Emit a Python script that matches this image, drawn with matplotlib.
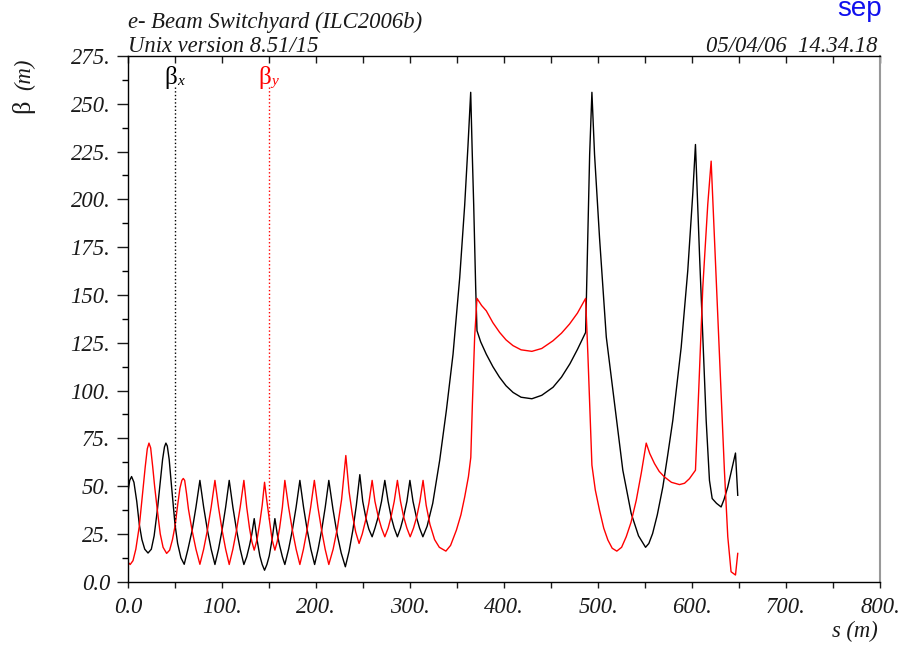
import numpy as np
import matplotlib
matplotlib.use('Agg')
import matplotlib.pyplot as plt
from matplotlib.ticker import MultipleLocator, FixedLocator, FixedFormatter

# beta_x (black): s [m], beta [m]
s_x = [0, 1.5, 3.5, 6, 9, 11.7, 14.5, 17.5, 21, 24.5, 27.5, 30.9, 34, 36.5, 38.5, 40, 41.5, 43.5, 46, 49.7, 52.5, 56, 59.5,
       63.5, 68, 72, 76.2, 80.2, 84.2, 88.2, 92.2, 96, 99.8, 103.6, 107.4, 111.3, 115.2, 119.1, 123,
       126, 129, 131.5, 134, 137, 140, 142.5, 145, 147.5, 150, 153, 156, 158.5, 161, 164, 166.6,
       170.6, 174.6, 178.6, 182.6, 186.5, 190.4, 194.3, 198.3, 202, 205.8, 209.6, 213.4,
       217.8, 222.2, 226.6, 231, 235, 239, 242.7, 246.4, 249.5, 253, 256, 259.5,
       262.5, 266, 269.5, 273, 276.5, 279.7, 283, 286.4, 289.7, 293, 296.5, 299.7,
       303, 306.5, 310, 313.5, 318, 324, 331.4, 338.5, 345.6, 352.7, 358, 361.5, 364.4,
       366, 367.6, 369.7, 371.1, 375, 381, 388, 395, 402, 409.5, 418, 429.5, 440, 452, 461, 470, 478, 486.7,
       489, 491, 493.4, 496.2, 501.5, 508.7, 517.5, 526.3, 535.2, 543, 550.5, 554, 558, 563, 568.9, 574,
       579.5, 588.4, 595.4, 600.7, 603.6, 607.9, 611.4, 615, 618.5, 621.4, 626, 630.9, 634, 638, 646.2, 648.6]
beta_x = [48, 53, 55, 52, 42, 30, 22, 17, 15, 17, 24, 37.4, 52, 64, 70.5, 72.5, 71, 64, 50, 30, 20, 12.5, 9.1,
          17, 27, 39, 53, 39, 27, 17, 9, 17, 27, 39, 53, 39, 27, 17, 9,
          13, 19, 25, 33, 22, 13.5, 9, 6, 9, 13.5, 22, 33, 25, 19, 13, 9,
          17, 27, 39, 53, 39, 27, 17, 9, 17, 27, 39, 53,
          38, 25, 15, 7.8, 16, 27, 40, 56, 42, 33, 27.5, 23.5,
          28, 34, 42, 53, 42, 34, 28, 23.5, 28, 34, 42, 53,
          42, 34, 28, 23.5, 29, 41, 63.5, 89.6, 119, 159, 197, 228, 256,
          225, 197, 154, 131.3, 125.5, 119, 112.5, 107, 102.5, 99, 96.5, 95.7, 97.5, 101.7, 107, 114, 121.5, 130.4,
          180, 223.5, 256, 223.5, 180, 128, 93, 58.3, 35.7, 24, 18, 20, 25.2, 35, 49.6, 66,
          84.4, 122.6, 162.6, 202.6, 228.7, 171.3, 127.8, 84.4, 53, 43.5, 41, 39.1, 43, 49.6, 67.3, 45.2]

# beta_y (red)
s_y = [0, 2, 5, 8, 11.7, 15, 18, 20.2, 22, 23.8, 26, 28, 30.9, 34, 37, 40.8, 44, 47, 49.7, 52.5, 55, 57, 58.5,
       60, 62, 64, 67.8, 72, 76.2, 80.2, 84.2, 88.2, 92.2, 96, 99.8, 103.6, 107.4, 111.3, 115.2, 119.1, 123,
       126, 129, 131.5, 134, 137, 140, 142.5, 145, 147.5, 150, 153, 156, 158.5, 161, 164, 166.6,
       170.6, 174.6, 178.6, 182.6, 186.4, 190.2, 194.1, 198, 201.8, 205.7, 209.5, 213.4,
       218, 222.5, 227, 231.5, 235, 238.5, 242, 245.6, 249, 252.5, 256, 259.5,
       262.5, 266, 269.5, 273, 276.5, 279.7, 283, 286.4, 289.7, 293, 296.5, 300,
       303.5, 307, 310.3, 313.7, 317, 321, 326, 331, 338, 343, 349.2, 354, 358, 362, 364.5,
       366.2, 368.6, 371.1, 376, 381, 388, 395.2, 402, 409.4, 418, 429.5, 440, 451.9, 461, 469.6, 478, 486.7,
       489.1, 491.6, 493.4, 497, 501.5, 506, 510.4, 515, 519.9, 525, 529.9, 535, 540.6, 546, 551.2,
       555, 560, 565, 570.6, 578, 586.6, 592, 597.2, 603.6, 607.2, 611.4, 616.7, 620.3, 623.8,
       629.1, 634.4, 638, 641.5, 646.2, 648.6]
beta_y = [10, 9, 11, 17, 29, 45, 60, 69.5, 72.5, 70, 60, 50, 37.4, 25, 18, 14.8, 16.5, 22, 29, 40, 49, 53, 54,
          53, 46, 38, 27, 17, 9.1, 17, 27, 39, 53, 39, 27, 17, 9, 17, 27, 39, 53,
          39, 28, 21, 16.5, 22, 31, 40, 52, 42, 33, 22, 16.5, 21, 28, 39, 53,
          39, 27, 17, 9, 17, 27, 39, 53, 39, 27, 17, 9,
          17, 28, 43, 66, 47, 35, 26, 20, 25, 32, 41, 53,
          42, 34, 28, 23.5, 28, 34, 42, 53, 42, 34, 28, 23.5,
          28, 34, 42, 53, 40, 30, 22, 18, 16, 19, 27, 35, 44.3, 55, 65,
          93, 128, 148.2, 144.5, 141.7, 135.5, 130.4, 126.5, 123.5, 121.3, 120.5, 122, 126, 130, 134.8, 140.5, 148.2,
          119, 84.4, 61, 48, 37.4, 28, 21.8, 17.5, 16, 18, 23.5, 31, 42.6, 57, 72.5,
          67, 61.8, 57.7, 54.8, 52, 50.8, 51.5, 53.9, 58.3, 101.7, 153.9, 197.4, 220, 180,
          119, 58.3, 23.5, 5.2, 3.5, 14.8]

x_ticks = [0, 100, 200, 300, 400, 500, 600, 700, 800]
x_labels = ['0.0', '100.', '200.', '300.', '400.', '500.', '600.', '700.', '800.']
y_ticks = [0, 25, 50, 75, 100, 125, 150, 175, 200, 225, 250, 275]
y_labels = ['0.0', '25.', '50.', '75.', '100.', '125.', '150.', '175.', '200.', '225.', '250.', '275.']

serif = 'Liberation Serif'
W, H = 899, 645
fs = 16.3
ink = '#1a1a1a'

fig = plt.figure(figsize=(W / 100, H / 100), dpi=100)
ax = fig.add_axes([128.3 / W, 1 - 581.7 / H, (880 - 128.3) / W, (581.7 - 56) / H])

ax.plot(s_x, beta_x, color='black', lw=1.0)
ax.plot(s_y, beta_y, color='red', lw=1.0)

# marker lines for the curve labels
ax.plot([50, 50], [259, np.interp(50, s_x, beta_x)], color='black', lw=1.0, ls=':')
ax.plot([150, 150], [259, np.interp(150, s_y, beta_y)], color='red', lw=1.0, ls=':')
ax.annotate('β', (50, 264), ha='right', va='center', fontsize=18, family=serif, color='black',
            xytext=(1, 0), textcoords='offset points')
ax.annotate('x', (50, 264), ha='left', va='center', fontsize=11, family=serif, style='italic',
            color='black', xytext=(1.5, -3), textcoords='offset points')
ax.annotate('β', (150, 264), ha='right', va='center', fontsize=18, family=serif, color='red',
            xytext=(1, 0), textcoords='offset points')
ax.annotate('y', (150, 264), ha='left', va='center', fontsize=11, family=serif, style='italic',
            color='red', xytext=(1.5, -3), textcoords='offset points')

ax.set_xlim(0, 800)
ax.set_ylim(0, 275)

ax.xaxis.set_major_locator(FixedLocator(x_ticks))
ax.xaxis.set_major_formatter(FixedFormatter(x_labels))
ax.xaxis.set_minor_locator(MultipleLocator(50))
ax.yaxis.set_major_locator(FixedLocator(y_ticks))
ax.yaxis.set_major_formatter(FixedFormatter(y_labels))
ax.yaxis.set_minor_locator(MultipleLocator(12.5))

ax.tick_params(axis='x', which='both', direction='out', length=4, width=1, top=True, pad=7,
               labelsize=fs, colors=ink)
ax.tick_params(axis='x', which='both', top=True, labeltop=False)
ax.tick_params(axis='y', which='major', direction='out', length=8, width=1, pad=5,
               labelsize=fs, colors=ink)
ax.tick_params(axis='y', which='minor', direction='out', length=4, width=1)
ax.tick_params(axis='y', which='both', right=False)
for lab in ax.get_xticklabels() + ax.get_yticklabels():
    lab.set_family(serif)
    lab.set_style('italic')

for side in ['left', 'bottom', 'top']:
    ax.spines[side].set_linewidth(1.0)
ax.spines['right'].set_color('#999999')
ax.spines['right'].set_linewidth(1.5)

# top ticks point into the frame
for t in ax.xaxis.get_major_ticks() + ax.xaxis.get_minor_ticks():
    t.tick2line.set_marker(3)
    t.tick2line.set_markersize(5)

# header text
fig.text(128 / W, 1 - 28 / H, 'e- Beam Switchyard (ILC2006b)', family=serif, style='italic',
         fontsize=fs, color=ink, ha='left', va='baseline')
fig.text(128 / W, 1 - 52 / H, 'Unix version 8.51/15', family=serif, style='italic',
         fontsize=fs, color=ink, ha='left', va='baseline')
fig.text(878 / W, 1 - 52 / H, '05/04/06  14.34.18', family=serif, style='italic',
         fontsize=fs, color=ink, ha='right', va='baseline')
# slide text cropped at the top edge, as in the source image
fig.text(837 / W, 1 - 16 / H, 'sep', family='Liberation Sans', fontsize=20, color='#1010ee',
         ha='left', va='baseline')

# axis labels
fig.text(23 / W, 1 - 106 / H, 'β', family=serif, fontsize=19, rotation=90,
         ha='center', va='center', color=ink)
fig.text(25 / W, 1 - 74 / H, '(m)', family=serif, style='italic', fontsize=fs, rotation=90,
         ha='center', va='center', color=ink)
fig.text(878 / W, 1 - 631 / H, 's (m)', family=serif, style='italic', fontsize=fs,
         ha='right', va='center', color=ink)

fig.savefig('out.png', dpi=100, facecolor='white')
